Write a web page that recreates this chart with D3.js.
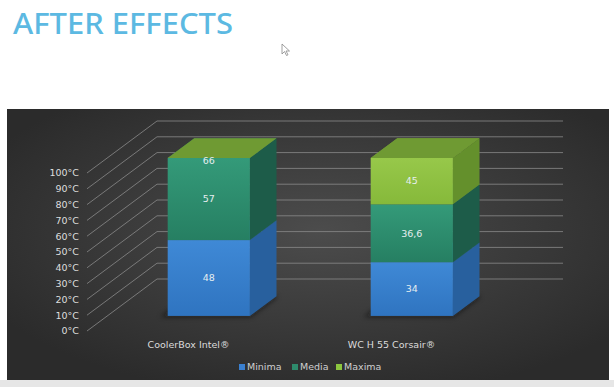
<!DOCTYPE html>
<html>
<head>
<meta charset="utf-8">
<script src="https://cdn.jsdelivr.net/npm/d3@7"></script>
<style>
  html, body { margin: 0; padding: 0; background: #fff; }
  svg { display: block; }
</style>
</head>
<body>
<div id="chart"></div>
<script>
// data
const categories = ['CoolerBox Intel®', 'WC H 55 Corsair®'];
const seriesNames = ['Minima', 'Media', 'Maxima'];
const minima = [48, 34];
const media = [57, 36.6];
const maxima = [66, 45];
const yMax = 100;

const width = 614;
const height = 387;

// face colours per series: front (top, bottom), side, top
const colors = {
  Minima: { f1: '#3f89d6', f2: '#2f74c0', side: '#28609e', top: '#3572b4', key: '#3a80d0' },
  Media: { f1: '#349a79', f2: '#267f62', side: '#1d5c49', top: '#2a7a5f', key: '#2e8b6c' },
  Maxima: { f1: '#97c84a', f2: '#86b93a', side: '#64902c', top: '#6f9a33', key: '#8cc63f' }
};

const svg = d3.select('#chart').append('svg')
  .attr('width', width)
  .attr('height', height);

const defs = svg.append('defs');

// panel background
const bg = defs.append('radialGradient')
  .attr('id', 'panelBg')
  .attr('cx', '52%').attr('cy', '45%').attr('r', '62%');
bg.append('stop').attr('offset', '0%').style('stop-color', '#4c4c4c');
bg.append('stop').attr('offset', '100%').style('stop-color', '#2b2b2b');

seriesNames.forEach(function (s) {
  const g = defs.append('linearGradient')
    .attr('id', 'front' + s)
    .attr('x1', '0%').attr('y1', '0%').attr('x2', '0%').attr('y2', '100%');
  g.append('stop').attr('offset', '0%').style('stop-color', colors[s].f1);
  g.append('stop').attr('offset', '100%').style('stop-color', colors[s].f2);
});

defs.append('filter').attr('id', 'blur')
  .attr('x', '-20%').attr('y', '-50%').attr('width', '140%').attr('height', '200%')
  .append('feGaussianBlur').attr('stdDeviation', 2.5);

// page bits
svg.append('rect')
  .attr('x', 0).attr('y', 380).attr('width', width).attr('height', 7)
  .attr('fill', '#e6e6e6');

svg.append('text')
  .attr('x', 13)
  .attr('y', 34)
  .attr('font-family', 'Noto Sans, sans-serif')
  .attr('font-size', 29)
  .attr('font-weight', 500)
  .attr('textLength', 220)
  .attr('lengthAdjust', 'spacingAndGlyphs')
  .attr('fill', '#5cb9e2')
  .text('AFTER EFFECTS');

// mouse pointer
svg.append('path')
  .attr('d', 'M282,44 L282,54 L284.5,51.5 L286.5,55.5 L288,54.8 L286,51 L289.5,51 Z')
  .attr('fill', '#fff')
  .attr('stroke', '#888')
  .attr('stroke-width', 0.8);

svg.append('rect')
  .attr('x', 7).attr('y', 109).attr('width', 602).attr('height', 271)
  .attr('fill', 'url(#panelBg)');

// 3D geometry
const depthX = 70;
const depthY = 52;

const y = d3.scaleLinear()
  .domain([0, yMax])
  .range([331, 173]);

const x = d3.scaleBand()
  .domain(categories)
  .range([87, 493])
  .padding(0);

const barWidth = x.bandwidth() * 0.405;
const zFront = 0.29;
const zBack = 0.67;

function proj(px, v, z) {
  return [px + z * depthX, y(v) - z * depthY];
}

function poly(points) {
  return 'M' + points.map(function (p) { return p.join(','); }).join('L') + 'Z';
}

const grid = svg.append('g');
const ticks = y.ticks(10);

grid.selectAll('line.diag')
  .data(ticks)
  .enter()
  .append('line')
  .attr('class', 'diag')
  .attr('x1', x.range()[0])
  .attr('y1', function (d) { return y(d); })
  .attr('x2', x.range()[0] + depthX)
  .attr('y2', function (d) { return y(d) - depthY; })
  .attr('stroke', '#8a8a8a')
  .attr('stroke-width', 0.8);

grid.selectAll('line.back')
  .data(ticks)
  .enter()
  .append('line')
  .attr('class', 'back')
  .attr('x1', x.range()[0] + depthX)
  .attr('y1', function (d) { return y(d) - depthY; })
  .attr('x2', x.range()[1] + depthX)
  .attr('y2', function (d) { return y(d) - depthY; })
  .attr('stroke', '#8a8a8a')
  .attr('stroke-width', 0.8);

grid.selectAll('text.tick')
  .data(ticks)
  .enter()
  .append('text')
  .attr('class', 'tick')
  .attr('x', 79)
  .attr('y', function (d) { return y(d); })
  .attr('dy', '0.35em')
  .attr('text-anchor', 'end')
  .attr('font-family', 'DejaVu Sans, sans-serif')
  .attr('font-size', 9.5)
  .attr('fill', '#dedede')
  .text(function (d) { return d + '°C'; });

// stacked data
const table = categories.map(function (c, i) {
  return { cat: c, Minima: minima[i], Media: media[i], Maxima: maxima[i] };
});
const stacked = d3.stack().keys(seriesNames)(table);

const fmt = d3.formatLocale({ decimal: ',', thousands: '.', grouping: [3], currency: ['', '€'] }).format('~g');

const bars = svg.append('g');
const labels = [];

table.forEach(function (row, i) {
  const x0 = x(row.cat) + (x.bandwidth() - barWidth) / 2;
  const x1 = x0 + barWidth;
  const g = bars.append('g');

  // shadow on the floor
  g.append('path')
    .attr('d', poly([
      proj(x0 - 6, 0, zFront - 0.02), proj(x1 + 2, 0, zFront - 0.02),
      proj(x1 + 2, 0, zBack), proj(x0 - 6, 0, zBack)
    ]))
    .attr('fill', '#111')
    .attr('opacity', 0.55)
    .attr('filter', 'url(#blur)');

  let topVal = 0;
  let topSeries = null;
  stacked.forEach(function (layer) {
    const s = layer.key;
    const v0 = Math.min(layer[i][0], yMax);
    const v1 = Math.min(layer[i][1], yMax);
    const val = row[s];
    if (v1 > v0) {
      // side face
      g.append('path')
        .attr('d', poly([
          proj(x1, v0, zFront), proj(x1, v0, zBack),
          proj(x1, v1, zBack), proj(x1, v1, zFront)
        ]))
        .attr('fill', colors[s].side);
      // top face (covered by the next segment)
      g.append('path')
        .attr('d', poly([
          proj(x0, v1, zFront), proj(x1, v1, zFront),
          proj(x1, v1, zBack), proj(x0, v1, zBack)
        ]))
        .attr('fill', colors[s].top);
      // front face
      const p1 = proj(x0, v1, zFront);
      const p2 = proj(x1, v0, zFront);
      g.append('rect')
        .attr('x', p1[0])
        .attr('y', p1[1])
        .attr('width', p2[0] - p1[0])
        .attr('height', p2[1] - p1[1])
        .attr('fill', 'url(#front' + s + ')');
      labels.push({ x: (p1[0] + p2[0]) / 2, y: (p1[1] + p2[1]) / 2, text: fmt(val) });
    } else {
      // segment lies above the axis maximum: label sits at the clipped top
      const p = proj(x0 + barWidth / 2, yMax, zFront);
      labels.push({ x: p[0], y: p[1] + 3, text: fmt(val) });
    }
    if (val > 0) {
      topSeries = s;
    }
    topVal = v1;
  });

  // cap of the clipped bar takes the colour of the last series
  g.append('path')
    .attr('d', poly([
      proj(x0, topVal, zFront), proj(x1, topVal, zFront),
      proj(x1, topVal, zBack), proj(x0, topVal, zBack)
    ]))
    .attr('fill', colors[topSeries].top);
});

svg.append('g').selectAll('text')
  .data(labels)
  .enter()
  .append('text')
  .attr('x', function (d) { return d.x; })
  .attr('y', function (d) { return d.y; })
  .attr('dy', '0.35em')
  .attr('text-anchor', 'middle')
  .attr('font-family', 'DejaVu Sans, sans-serif')
  .attr('font-size', 9.5)
  .attr('fill', '#e6eef0')
  .text(function (d) { return d.text; });

// category labels
svg.append('g').selectAll('text')
  .data(categories)
  .enter()
  .append('text')
  .attr('x', function (d) { return x(d) + x.bandwidth() / 2; })
  .attr('y', 345)
  .attr('dy', '0.35em')
  .attr('text-anchor', 'middle')
  .attr('font-family', 'DejaVu Sans, sans-serif')
  .attr('font-size', 9.5)
  .attr('fill', '#dcdcdc')
  .text(function (d) { return d; });

// legend
const legendX = [239, 292, 336];
const legend = svg.append('g').selectAll('g')
  .data(seriesNames)
  .enter()
  .append('g')
  .attr('transform', function (d, i) { return 'translate(' + legendX[i] + ',367)'; });

legend.append('rect')
  .attr('x', 0).attr('y', -3)
  .attr('width', 6).attr('height', 6)
  .attr('fill', function (d) { return colors[d].key; });

legend.append('text')
  .attr('x', 8)
  .attr('dy', '0.35em')
  .attr('font-family', 'DejaVu Sans, sans-serif')
  .attr('font-size', 9.5)
  .attr('fill', '#cfcfcf')
  .text(function (d) { return d; });
</script>
</body>
</html>
